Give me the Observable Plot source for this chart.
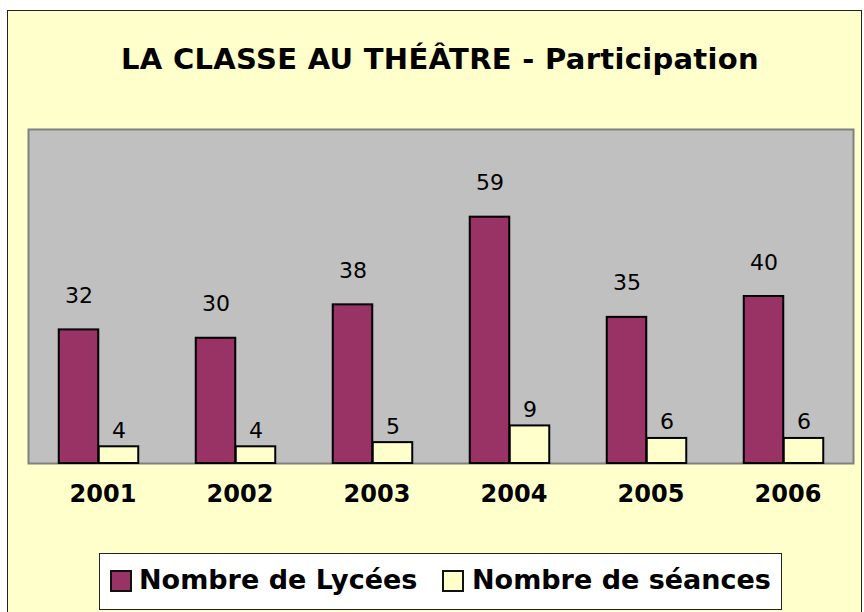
<!DOCTYPE html>
<html><head><meta charset="utf-8">
<script src="https://cdn.jsdelivr.net/npm/d3@7"></script>
<script src="https://cdn.jsdelivr.net/npm/@observablehq/plot@0.6"></script>
<style>
body{margin:0;background:#fff;}
#wrap{position:relative;width:864px;height:612px;overflow:hidden;font-family:"DejaVu Sans",sans-serif;}
#outer{position:absolute;left:7px;top:10px;width:853px;height:620px;border:1.5px solid #222;background:#FFFFCC;}
#title{position:absolute;left:0;top:42px;width:880px;text-align:center;font-weight:bold;font-size:29px;letter-spacing:0.3px;color:#000;white-space:nowrap;}
#chart{position:absolute;left:0;top:0;}
#legend{position:absolute;left:99px;top:553px;width:681px;height:55px;border:1.5px solid #222;background:#fff;font-weight:bold;font-size:27px;}
.txt{position:absolute;top:10px;white-space:nowrap;color:#000;}
.sw{position:absolute;top:16px;width:18px;height:18px;border:2.5px solid #111;}
</style></head>
<body><div id="wrap"><div id="outer"></div>
<div id="title">LA CLASSE AU THÉÂTRE - Participation</div>
<div id="chart"></div>
<div id="legend"></div>
</div>
<script>
const years = ["2001","2002","2003","2004","2005","2006"];
const lycees = [32, 30, 38, 59, 35, 40];
const seances = [4, 4, 5, 9, 6, 6];
const seriesNames = ["Nombre de Lycées", "Nombre de séances"];
const seriesColors = ["#993366", "#FFFFCC"];

const data = years.map((y, i) => ({year: y, lycees: lycees[i], seances: seances[i]}));
const ff = "DejaVu Sans, sans-serif";
const chart = Plot.plot({
  width: 864, height: 540,
  marginTop: 129, marginBottom: 77, marginLeft: 28, marginRight: 11,
  style: {background: "transparent", fontFamily: ff},
  x: {domain: years, padding: 0, axis: null},
  y: {domain: [0, 80], axis: null},
  marks: [
    Plot.frame({fill: "#C0C0C0", stroke: "#808080", strokeWidth: 2}),
    Plot.barY(data, {x: "year", y: "lycees", fill: seriesColors[0], stroke: "#000", strokeWidth: 2, insetLeft: 28.75, insetRight: 68.75}),
    Plot.barY(data, {x: "year", y: "seances", fill: seriesColors[1], stroke: "#000", strokeWidth: 2, insetLeft: 68.75, insetRight: 28.75}),
    Plot.text(data, {x: "year", y: "lycees", text: "lycees", dx: -20, dy: -34, fontSize: 22, fill: "#000"}),
    Plot.text(data, {x: "year", y: "seances", text: "seances", dx: 20, dy: -16, fontSize: 22, fill: "#000"}),
    Plot.axisX({tickSize: 0, tickPadding: 21, fontSize: 24, fontWeight: "bold", fill: "#000", dx: 4, label: null})
  ]
});
document.getElementById("chart").appendChild(chart);

const lg = document.getElementById("legend");
const swLefts = [10, 342];
const txtLefts = [39, 372];
seriesNames.forEach((n, i) => {
  const s = document.createElement("div");
  s.className = "sw";
  s.style.left = swLefts[i] + "px";
  s.style.background = seriesColors[i];
  lg.appendChild(s);
  const t = document.createElement("div");
  t.className = "txt";
  t.style.left = txtLefts[i] + "px";
  t.textContent = n;
  lg.appendChild(t);
});
</script>
</body></html>
